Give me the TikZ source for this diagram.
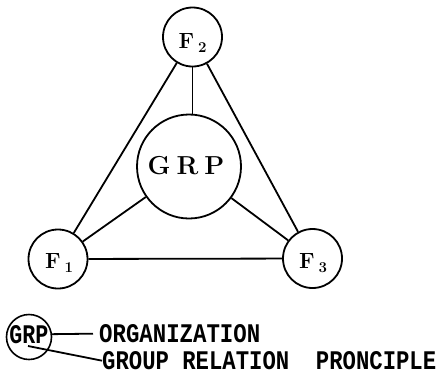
\documentclass[tikz,border=0pt]{standalone}
\usepackage{fontspec}
\usepackage{graphicx}
\newfontfamily\legendfont{Liberation Mono}
\begin{document}
\begin{tikzpicture}[x=1pt,y=-1pt,
  fcircle/.style={circle, draw, line width=1.8pt, minimum size=59pt, inner sep=0pt},
  hub/.style={circle, draw, line width=1.8pt, minimum size=104pt, inner sep=0pt},
  link/.style={line width=1.8pt},
  legendtext/.style={inner sep=0pt, anchor=south west}]
\useasboundingbox (0,0) rectangle (438,381);

% factor label: F with a lowered index
\newcommand{\flabel}[1]{\bfseries\fontsize{22}{24}\selectfont F\hspace{4pt}\raisebox{-4pt}{\fontsize{15}{16}\selectfont #1}}

% nodes of the triangle and the central hub
\node[fcircle] (F2) at (192.5,37) {};
\node[fcircle] (F1) at (58,259) {};
\node[fcircle] (F3) at (312.5,258.5) {};
\node[hub] (GRP) at (189,166.5) {};

\node[inner sep=0pt, anchor=base] at (192.5,48) {\flabel{2}};
\node[inner sep=0pt, anchor=base] at (59,268) {\flabel{1}};
\node[inner sep=0pt, anchor=base] at (313,268) {\flabel{3}};
\node[inner sep=0pt, anchor=base] at (186,174) {\bfseries\fontsize{26}{28}\selectfont G\hspace{6pt}R\hspace{6pt}P};

% triangle sides
\draw[link] (F1) -- (F2);
\draw[link] (F2) -- (F3);
\draw[link] (F1) -- (F3);

% spokes to the hub
\draw[link] (F2.south) -- (F2.south |- GRP.north);
\draw[link] (GRP) -- (F1);
\draw[link] (GRP) -- (F3);

% legend
\node[circle, draw, line width=1.6pt, minimum size=45pt, inner sep=0pt] (lg) at (29,337) {};
\node[inner sep=0pt, anchor=south] at (29,344) {\resizebox{39pt}{18pt}{\legendfont\bfseries GRP}};
\node[legendtext] (org) at (99,343) {\resizebox{161pt}{18pt}{\legendfont\bfseries ORGANIZATION}};
\node[legendtext] (grl) at (102,370) {\resizebox{334pt}{18pt}{\legendfont\bfseries GROUP RELATION\ \ PRONCIPLE}};
\coordinate (lgin) at (28,346);
\draw[link] (lg.7) -- ([xshift=-6pt]org.west);
\draw[link] (lgin) -- (grl.west);
\end{tikzpicture}
\end{document}
